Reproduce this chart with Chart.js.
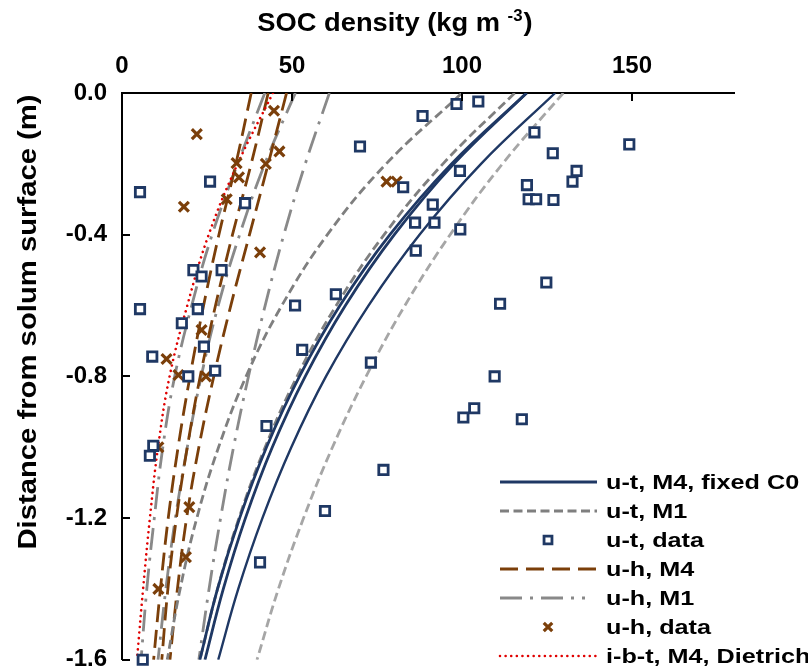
<!DOCTYPE html>
<html><head><meta charset="utf-8">
<script src="https://cdn.jsdelivr.net/npm/chart.js@4.4.0/dist/chart.umd.min.js"></script>
<style>html,body{margin:0;padding:0;background:#fff}canvas{display:block}</style>
</head><body>
<canvas id="c" width="808" height="670"></canvas>
<script>
// ---- data ----
const depths = [0, -0.2, -0.4, -0.6, -0.8, -1.0, -1.2, -1.4, -1.6];
// u-t, M4, fixed C0 (three fits)
const utM4a = [119.0, 96.9, 78.8, 64.1, 52.2, 42.5, 34.6, 28.1, 22.9];
const utM4b = [119.0, 97.6, 80.1, 65.7, 53.9, 44.2, 36.3, 29.8, 24.4];
const utM4c = [127.4, 105.6, 87.5, 72.5, 60.0, 49.8, 41.3, 34.2, 28.3];
// u-t, M1
const utM1a = [100.0, 77.7, 60.4, 47.0, 36.5, 28.4, 22.0, 17.1, 13.3];
const utM1b = [115.5, 94.4, 77.1, 63.0, 51.5, 42.1, 34.4, 28.1, 22.9];
const utM1c = [129.8, 111.9, 96.5, 83.2, 71.8, 61.9, 53.4, 46.0, 39.7];
// u-h, M4
const uhM4a = [38.0, 33.5, 28.5, 24.0, 20.0, 16.5, 13.6, 11.3, 9.3];
const uhM4b = [43.0, 38.0, 32.5, 27.5, 23.0, 19.2, 16.0, 13.5, 11.7];
const uhM4c = [48.4, 43.0, 37.5, 32.0, 27.0, 22.6, 19.0, 16.3, 14.1];
// u-h, M1
const uhM1a = [42.0, 34.0, 26.5, 20.5, 15.5, 12.0, 9.5, 7.3, 5.6];
const uhM1b = [51.0, 42.0, 34.6, 28.3, 23.3, 19.2, 15.7, 12.9, 10.6];
const uhM1c = [61.0, 53.9, 47.6, 42.1, 37.2, 32.8, 29.0, 25.6, 22.6];
// i-b-t, M4, Dietrich
const ibtM4 = [44.4, 34.0, 25.5, 19.2, 14.0, 10.6, 8.2, 6.2, 4.4];

// u-t data
const utDataX = [5.3, 25.9, 36.2, 21.0, 23.4, 29.3, 5.3, 22.3, 17.6, 50.9, 62.9, 24.1, 8.9, 53.0, 27.4, 19.5,
  9.2, 8.2, 42.5, 59.7, 40.6, 6.1, 98.4, 104.8, 88.4, 70.0, 121.3, 149.2, 126.7, 99.4, 133.7, 132.5,
  82.7, 119.1, 119.6, 121.8, 126.9, 91.4, 86.2, 91.9, 99.5, 86.4, 124.8, 111.2, 73.2, 109.6, 100.4, 103.6, 117.6, 76.9];
const utDataY = [-0.28, -0.25, -0.311, -0.50, -0.518, -0.50, -0.61, -0.61, -0.65, -0.60, -0.568, -0.716, -0.744, -0.725, -0.784, -0.80,
  -0.996, -1.024, -0.94, -1.18, -1.325, -1.60, -0.031, -0.024, -0.065, -0.151, -0.111, -0.145, -0.17, -0.22, -0.22, -0.25,
  -0.266, -0.26, -0.30, -0.30, -0.302, -0.315, -0.366, -0.366, -0.385, -0.445, -0.535, -0.595, -0.761, -0.80, -0.916, -0.89, -0.921, -1.064];
// u-h data
const uhDataX = [22.0, 44.7, 46.3, 33.7, 42.3, 34.4, 30.8, 18.2, 40.6, 23.4, 13.1, 16.6, 24.7, 10.7, 19.8, 18.8, 10.7, 77.8, 80.8];
const uhDataY = [-0.116, -0.05, -0.165, -0.198, -0.20, -0.238, -0.30, -0.321, -0.45, -0.669, -0.751, -0.796, -0.80, -1.0, -1.169, -1.31, -1.40, -0.25, -0.25];

const xTicks = [0, 50, 100, 150];
const legendLabels = ['u-t, M4, fixed C0', 'u-t, M1', 'u-t, data', 'u-h, M4', 'u-h, M1', 'u-h, data', 'i-b-t, M4, Dietrich'];

// ---- styles ----
const NAVY = '#1F3864', GRAY = '#7F7F7F', LGRAY = '#A6A6A6', DGRAY2 = '#898989', BROWN = '#7B3F0A', RED = '#E00000';
const FONT = "'Liberation Sans', Arial, Helvetica, sans-serif";

const curve = (vals) => vals.map((v, i) => ({ x: v, y: depths[i] }));
const pts = (xs, ys) => xs.map((v, i) => ({ x: v, y: ys[i] }));

const lineStyle = {
  utM4: { borderColor: NAVY, borderWidth: 2.8, borderDash: [] },
  utM1: { borderColor: GRAY, borderWidth: 2.8, borderDash: [9, 4.5] },
  uhM4: { borderColor: BROWN, borderWidth: 2.8, borderDash: [18, 8] },
  uhM1: { borderColor: DGRAY2, borderWidth: 2.8, borderDash: [22, 8, 3, 8] },
  ibt:  { borderColor: RED, borderWidth: 2.6, borderDash: [0.01, 5.6], borderCapStyle: 'round' }
};
function lineDs(label, vals, st, extra) {
  return Object.assign({ label, data: curve(vals), showLine: true, pointRadius: 0, tension: 0.4,
    fill: false, order: 2, borderCapStyle: 'butt' }, st, extra || {});
}

const datasets = [
  { label: 'u-t, data', data: pts(utDataX, utDataY), pointStyle: 'rect', pointRadius: 6.6, borderWidth: 2.8,
    borderColor: NAVY, backgroundColor: '#ffffff', showLine: false, order: 0, clip: false },
  { label: 'u-h, data', data: pts(uhDataX, uhDataY), pointStyle: 'crossRot', pointRadius: 7, borderWidth: 3.2,
    borderColor: BROWN, backgroundColor: BROWN, showLine: false, order: 0, clip: false },
  lineDs('u-t, M4, fixed C0', utM4a, lineStyle.utM4),
  lineDs('u-t, M4, fixed C0 b', utM4b, lineStyle.utM4),
  lineDs('u-t, M4, fixed C0 c', utM4c, lineStyle.utM4, { borderWidth: 2.4 }),
  lineDs('u-t, M1', utM1a, lineStyle.utM1),
  lineDs('u-t, M1 b', utM1b, lineStyle.utM1),
  lineDs('u-t, M1 c', utM1c, lineStyle.utM1, { borderColor: LGRAY }),
  lineDs('u-h, M4', uhM4a, lineStyle.uhM4),
  lineDs('u-h, M4 b', uhM4b, lineStyle.uhM4),
  lineDs('u-h, M4 c', uhM4c, lineStyle.uhM4),
  lineDs('u-h, M1', uhM1a, lineStyle.uhM1),
  lineDs('u-h, M1 b', uhM1b, lineStyle.uhM1),
  lineDs('u-h, M1 c', uhM1c, lineStyle.uhM1),
  lineDs('i-b-t, M4, Dietrich', ibtM4, lineStyle.ibt, { order: 1 })
];

const decor = {
  id: 'decor',
  afterDraw(chart) {
    const { ctx, chartArea: ca, scales: { x, y } } = chart;
    ctx.save();
    // inside tick marks
    ctx.strokeStyle = '#000'; ctx.lineWidth = 2;
    x.ticks.forEach(t => { const p = Math.round(x.getPixelForValue(t.value)); ctx.beginPath(); ctx.moveTo(p, ca.top); ctx.lineTo(p, ca.top + 8); ctx.stroke(); });
    y.ticks.forEach(t => { const p = Math.round(y.getPixelForValue(t.value)); ctx.beginPath(); ctx.moveTo(ca.left, p); ctx.lineTo(ca.left + 8, p); ctx.stroke(); });

    // x title with superscript
    ctx.fillStyle = '#000'; ctx.textBaseline = 'alphabetic';
    const big = 'bold 26px ' + FONT, small = 'bold 16px ' + FONT;
    const p1 = 'SOC density (kg m ', p2 = '-3', p3 = ')';
    ctx.font = big; const w1 = ctx.measureText(p1).width, w3 = ctx.measureText(p3).width;
    ctx.font = small; const w2 = ctx.measureText(p2).width;
    const sxs = 1.05, tw = (w1 + w2 + w3 + 1) * sxs;
    ctx.save();
    ctx.translate(395 - tw / 2, 31); ctx.scale(sxs, 1);
    ctx.textAlign = 'left';
    ctx.font = big; ctx.fillText(p1, 0, 0);
    ctx.font = small; ctx.fillText(p2, w1, -10);
    ctx.font = big; ctx.fillText(p3, w1 + w2 + 1, 0);
    ctx.restore();

    // y title (stretched along its length like the reference)
    ctx.save();
    ctx.translate(29, 322); ctx.rotate(-Math.PI / 2); ctx.scale(1.17, 1);
    ctx.font = 'bold 25px ' + FONT; ctx.textAlign = 'center'; ctx.textBaseline = 'middle';
    ctx.fillText('Distance from solum surface (m)', 0, 0);
    ctx.restore();

    // legend
    const lx0 = 500, lx1 = 597, mx = 548, tx = 606, ly0 = 482, dy = 29;
    const styles = [
      { type: 'line', st: lineStyle.utM4 },
      { type: 'line', st: lineStyle.utM1 },
      { type: 'point', ds: datasets[0] },
      { type: 'line', st: lineStyle.uhM4 },
      { type: 'line', st: lineStyle.uhM1, end: 585 },
      { type: 'point', ds: datasets[1] },
      { type: 'line', st: lineStyle.ibt }
    ];
    styles.forEach((s, i) => {
      const yy = ly0 + i * dy;
      if (s.type === 'line') {
        ctx.save();
        ctx.strokeStyle = s.st.borderColor; ctx.lineWidth = s.st.borderWidth;
        ctx.setLineDash(s.st.borderDash); ctx.lineCap = s.st.borderCapStyle || 'butt';
        ctx.beginPath(); ctx.moveTo(lx0, yy); ctx.lineTo(s.end || lx1, yy); ctx.stroke();
        ctx.restore();
      } else {
        const d = s.ds;
        ctx.save();
        ctx.strokeStyle = d.borderColor; ctx.fillStyle = d.backgroundColor; ctx.lineWidth = d.borderWidth;
        Chart.helpers.drawPoint(ctx, { pointStyle: d.pointStyle, radius: d.pointRadius - 1, borderWidth: d.borderWidth, rotation: 0 }, mx, yy);
        ctx.restore();
      }
      ctx.save();
      ctx.translate(tx, yy + 1); ctx.scale(1.2, 1);
      ctx.fillStyle = '#000'; ctx.font = 'bold 21px ' + FONT; ctx.textAlign = 'left'; ctx.textBaseline = 'middle';
      ctx.fillText(legendLabels[i], 0, 0);
      ctx.restore();
    });
    ctx.restore();
  }
};

new Chart(document.getElementById('c'), {
  type: 'scatter',
  data: { datasets },
  plugins: [decor],
  options: {
    responsive: false, animation: false, devicePixelRatio: 1,
    layout: { padding: { left: 0, right: 74, top: 0, bottom: 10 } },
    plugins: { legend: { display: false }, tooltip: { enabled: false } },
    scales: {
      x: {
        type: 'linear', position: 'top', min: 0, max: 180,
        afterBuildTicks: s => { s.ticks = xTicks.map(v => ({ value: v })); },
        ticks: { color: '#000', font: { family: FONT, size: 24, weight: 'bold' }, padding: 4, maxRotation: 0 },
        grid: { display: false },
        border: { display: true, color: '#000', width: 2 },
        afterFit: s => { s.height = 93; s.paddingLeft = 0; s.paddingRight = 0; }
      },
      y: {
        type: 'linear', min: -1.6, max: 0,
        ticks: { stepSize: 0.4, color: '#000', font: { family: FONT, size: 24, weight: 'bold' }, padding: 7,
          callback: v => (Math.round(v * 10) / 10).toFixed(1) },
        grid: { display: false },
        border: { display: true, color: '#000', width: 2 },
        afterFit: s => { s.width = 122; s.paddingTop = 0; s.paddingBottom = 0; }
      }
    }
  }
});
</script>
</body></html>
